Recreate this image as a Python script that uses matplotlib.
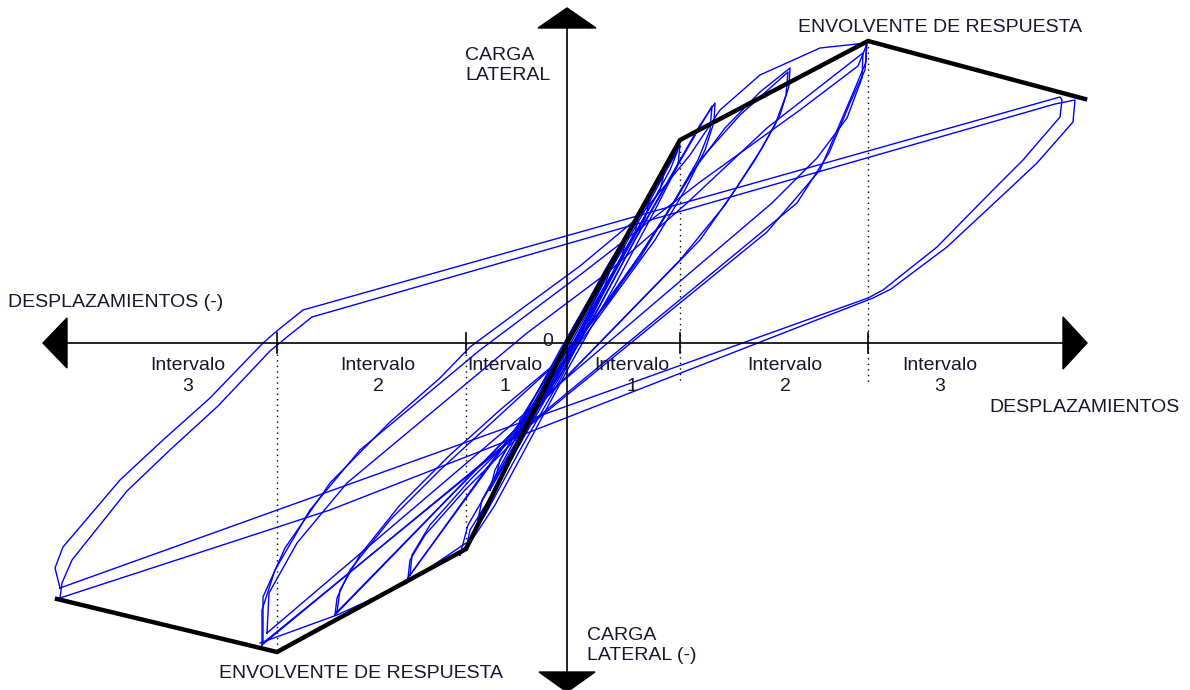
import matplotlib
matplotlib.use('Agg')
import matplotlib.pyplot as plt

# displacement (x) / lateral load (y), arbitrary units, origin at centre
env_pos_x = [0, 113, 301, 518]
env_pos_y = [0, 203, 302, 244]
env_neg_x = [0, -101, -290, -510]
env_neg_y = [0, -206, -309, -256]

# interval 3 cycles
e1_x = [-507, -512, -504, -447, -404, -357, -304, -289, -264, 493, 495, 493, 456, 426, 370, 316, 301, -507]
e1_y = [-245, -225, -204, -137, -97, -55, 0, 13, 33, 246, 243, 226, 183, 153, 96, 53, 45, -245]
e2_x = [-507, -505, -495, -440, -396, -349, -297, -280, -255, 488, 508, 506, 470, 438, 380, 324, 306, -237, -507]
e2_y = [-255, -240, -217, -148, -106, -63, -8, 6, 26, 239, 243, 221, 180, 150, 96, 54, 45, -167, -255]

# interval 2 cycles
d1_x = [-304, -304, -282, -237, -177, -127, -97, -47, 13, 73, 123, 153, 193, 253, 299, 299, 286, 253, 200, -304]
d1_y = [-300, -254, -205, -140, -79, -35, -4, 33, 77, 127, 188, 233, 268, 295, 300, 281, 250, 173, 111, -300]
d2_x = [-305, -305, -292, -257, -207, -147, -87, 13, 133, 233, 291, 300, 298, 283, 262, 230, -305]
d2_y = [-302, -267, -227, -167, -107, -57, -7, 68, 161, 233, 277, 299, 273, 240, 190, 140, -302]
d3_x = [-300, -298, -270, -220, -160, -100, -40, 40, 120, 200, 260, 296, 295, 280, 250, 205, -300]
d3_y = [-290, -250, -200, -140, -90, -40, 10, 70, 140, 215, 262, 290, 265, 225, 185, 140, -290]

# interval 1 cycles (larger amplitude)
c1_x = [-230, -227, -207, -167, -117, -67, -17, 23, 73, 123, 158, 193, 223, 222, 213, 195, 168, 133, -230]
c1_y = [-269, -247, -212, -162, -112, -67, -25, 18, 85, 168, 215, 251, 275, 257, 228, 195, 153, 103, -269]
c2_x = [-232, -230, -217, -177, -127, -67, -7, 43, 93, 133, 173, 221, 219, 208, 188, 158, 113, -232]
c2_y = [-272, -255, -227, -177, -127, -72, -17, 43, 118, 183, 228, 271, 248, 218, 183, 138, 83, -272]
b1_x = [-157, -155, -137, -97, -47, -7, 33, 73, 113, 133, 148, 147, 138, 118, 88, -157]
b1_y = [-232, -212, -182, -137, -87, -32, 38, 113, 183, 218, 240, 221, 193, 153, 103, -232]
b2_x = [-159, -157, -142, -102, -52, -12, 28, 68, 108, 145, 143, 131, 108, 73, -159]
b2_y = [-235, -217, -192, -147, -97, -42, 28, 103, 173, 237, 213, 183, 143, 88, -235]

# small cycles around the elastic branch
a1_x = [-101, -97, -72, -37, 0, 38, 78, 113, 111, 88, 48, 3, -37, -72, -101]
a1_y = [-206, -187, -147, -82, -7, 63, 133, 198, 178, 133, 58, -22, -97, -162, -206]
a2_x = [-107, -99, -67, -27, 13, 53, 93, 111, 103, 73, 33, -7, -47, -82, -107]
a2_y = [-212, -182, -127, -57, 23, 93, 163, 193, 173, 118, 43, -37, -107, -172, -212]
s1_x = [-52, -47, -22, 3, 33, 58, 53, 28, -2, -27, -52]
s1_y = [-97, -77, -37, 8, 58, 98, 81, 38, -17, -62, -97]
s2_x = [-72, -67, -37, -2, 38, 73, 68, 33, -7, -42, -72]
s2_y = [-137, -117, -67, -2, 73, 131, 111, 48, -27, -87, -137]
s3_x = [-37, -27, -7, 18, 43, 38, 18, -7, -27, -37]
s3_y = [-77, -57, -17, 33, 78, 63, 23, -27, -62, -77]
s4_x = [-77, -72, -42, -7, 33, 68, 83, 78, 43, 3, -37, -77]
s4_y = [-147, -127, -72, -7, 63, 123, 143, 125, 63, -12, -77, -147]
s5_x = [-47, -40, -17, 13, 43, 38, 13, -17, -47]
s5_y = [-87, -67, -27, 23, 73, 58, 13, -42, -87]
s6_x = [-89, -85, -55, -17, 23, 63, 98, 93, 58, 18, -22, -62, -89]
s6_y = [-177, -157, -102, -32, 43, 113, 173, 153, 93, 18, -57, -127, -177]

# path along the lower envelope between negative peaks
t1_x = [-101, -160, -230, -307]
t1_y = [-200, -240, -272, -300]

interval_x = [-379, -189, -62, 65, 218, 373]
interval_n = ['3', '2', '1', '1', '2', '3']
tick_x = [-290, -101, 113, 301]

txt = '#161630'
font = 'Liberation Sans'
fs = 14

fig = plt.figure(figsize=(11.9, 6.9), dpi=100)
ax = fig.add_axes([0, 0, 1, 1])
ax.set_xlim(-567, 623)
ax.set_ylim(-347, 343)
ax.axis('off')

loops = [(e1_x, e1_y), (e2_x, e2_y), (d1_x, d1_y), (d2_x, d2_y), (d3_x, d3_y),
         (c1_x, c1_y), (c2_x, c2_y), (b1_x, b1_y), (b2_x, b2_y),
         (a1_x, a1_y), (a2_x, a2_y), (s1_x, s1_y), (s2_x, s2_y),
         (s3_x, s3_y), (s4_x, s4_y), (s5_x, s5_y), (s6_x, s6_y),
         (t1_x, t1_y)]
for lx, ly in loops:
    ax.plot(lx, ly, color='#0000ff', lw=1.0, zorder=2)

# axes with arrow heads
ax.plot([-500, 496], [0, 0], color='black', lw=1.2, zorder=3)
ax.plot([0, 0], [-329, 315], color='black', lw=1.2, zorder=3)
ax.fill([-524, -500, -500], [0, 25, -25], color='black', zorder=3)
ax.fill([520, 496, 496], [0, 26, -26], color='black', zorder=3)
ax.fill([0, -29, 29], [335, 315, 315], color='black', zorder=3)
ax.fill([0, -28, 28], [-349, -329, -329], color='black', zorder=3)

for tx in tick_x:
    ax.plot([tx, tx], [-10, 10], color='black', lw=1.2, zorder=3)

ax.plot([-290, -290], [0, -305], color='black', lw=1, ls=(0, (1, 3)), zorder=1)
ax.plot([-101, -101], [0, -206], color='black', lw=1, ls=(0, (1, 3)), zorder=1)
ax.plot([113, 113], [203, -40], color='black', lw=1, ls=(0, (1, 3)), zorder=1)
ax.plot([301, 301], [302, -42], color='black', lw=1, ls=(0, (1, 3)), zorder=1)

# response envelope
ax.plot(env_pos_x, env_pos_y, color='black', lw=3.2, zorder=4, solid_joinstyle='miter')
ax.plot(env_neg_x, env_neg_y, color='black', lw=3.2, zorder=4, solid_joinstyle='miter')

kw = dict(color=txt, fontsize=fs, family=font, zorder=5)
ax.text(-559, 40, 'DESPLAZAMIENTOS (-)', ha='left', va='center', **kw)
ax.text(613, -65, 'DESPLAZAMIENTOS', ha='right', va='center', **kw)
ax.text(-102, 288, 'CARGA', ha='left', va='center', **kw)
ax.text(-102, 267, 'LATERAL', ha='left', va='center', **kw)
ax.text(20, -292, 'CARGA', ha='left', va='center', **kw)
ax.text(20, -312, 'LATERAL (-)', ha='left', va='center', **kw)
ax.text(373, 316, 'ENVOLVENTE DE RESPUESTA', ha='center', va='center', **kw)
ax.text(-206, -330, 'ENVOLVENTE DE RESPUESTA', ha='center', va='center', **kw)
ax.text(-19, 1, '0', ha='center', va='center', **kw)
for ix, n in zip(interval_x, interval_n):
    ax.text(ix, -23, 'Intervalo', ha='center', va='center', **kw)
    ax.text(ix, -44, n, ha='center', va='center', **kw)

fig.savefig('out.png', dpi=100)
